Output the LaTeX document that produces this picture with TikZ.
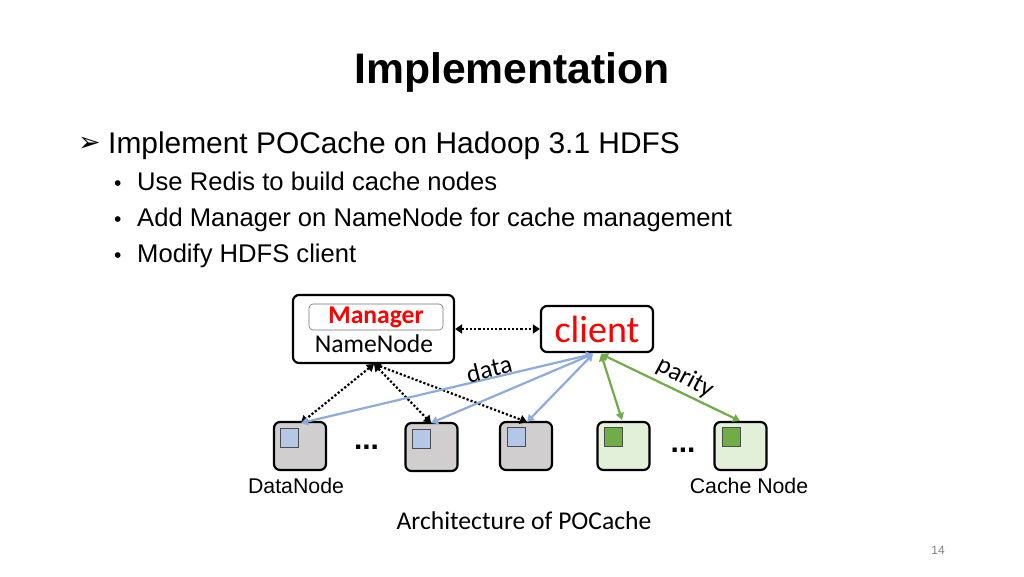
\documentclass[tikz,border=0pt]{standalone}
\usepackage{fontspec}
\setmainfont{Liberation Sans}
\newfontfamily\carlitofont{Carlito}
\newfontfamily\djvfont{DejaVu Sans}
\usetikzlibrary{arrows.meta}
\definecolor{dnfill}{HTML}{D0CECE}
\definecolor{cnfill}{HTML}{E2F0D9}
\definecolor{bluesq}{HTML}{B4C7E7}
\definecolor{greensq}{HTML}{70AD47}
\definecolor{bluearr}{HTML}{8FAADC}
\definecolor{greenarr}{HTML}{70AD47}
\definecolor{redtxt}{HTML}{FF0000}
\tikzset{
  txt/.style={inner sep=0, anchor=base west},
  mainbox/.style={draw=black, line width=2.2pt, rounded corners=6pt, fill=white},
  dnbox/.style={draw=black, line width=2.2pt, rounded corners=6pt, fill=dnfill, minimum width=52pt, minimum height=48pt, inner sep=0},
  cnbox/.style={draw=black, line width=2.2pt, rounded corners=6pt, fill=cnfill, minimum width=52pt, minimum height=48pt, inner sep=0},
  bsq/.style={draw=black!70, line width=0.8pt, fill=bluesq, minimum width=18pt, minimum height=19pt, inner sep=0},
  gsq/.style={draw=black!70, line width=0.8pt, fill=greensq, minimum width=18pt, minimum height=19pt, inner sep=0},
  dotarr/.style={line width=2.2pt, dotted, {Triangle[width=9pt,length=7pt]}-{Triangle[width=9pt,length=7pt]}},
  bluearrow/.style={draw=bluearr, line width=2.2pt, {Triangle[width=8pt,length=7pt]}-{Triangle[width=8pt,length=7pt]}},
  greenarrow/.style={draw=greenarr, line width=2.2pt, {Triangle[width=8pt,length=7pt]}-{Triangle[width=8pt,length=7pt]}},
  dlabel/.style={inner sep=0, font=\carlitofont\fontsize{25.6}{30}\selectfont},
}
\begin{document}
\begin{tikzpicture}[x=1pt,y=-1pt]
\useasboundingbox[fill=white] (0,0) rectangle (1024,576);
% title and bullets
\node[inner sep=0, anchor=base] (title) at (512,83) {\fontsize{42.7}{48}\selectfont\bfseries Implementation};
\node[txt] (b0) at (78,151) {\djvfont\fontsize{27}{30}\selectfont ➢};
\node[txt] (l0) at (108,153) {\fontsize{29.9}{34}\selectfont Implement POCache on Hadoop 3.1 HDFS};
\node[txt] (b1) at (114,190) {\fontsize{21}{25}\selectfont •};
\node[txt] (l1) at (137,190) {\fontsize{25.6}{30}\selectfont Use Redis to build cache nodes};
\node[txt] (b2) at (114,226) {\fontsize{21}{25}\selectfont •};
\node[txt] (l2) at (137,226) {\fontsize{25.6}{30}\selectfont Add Manager on NameNode for cache management};
\node[txt] (b3) at (114,262) {\fontsize{21}{25}\selectfont •};
\node[txt] (l3) at (137,262) {\fontsize{25.6}{30}\selectfont Modify HDFS client};
% NameNode
\node[mainbox, minimum width=161pt, minimum height=68pt] (nn) at (373.5,329) {};
\node[draw=black!55, line width=0.6pt, rounded corners=4pt, minimum width=134pt, minimum height=26pt, inner sep=0] (mgr) at (376,317) {\carlitofont\fontsize{25.6}{28}\selectfont\bfseries\color{redtxt}Manager};
\node[dlabel] (nnt) at (374,344) {NameNode};
% client
\node[mainbox, minimum width=112pt, minimum height=46pt, inner sep=0] (client) at (597,329) {\carlitofont\fontsize{38}{42}\selectfont\color{redtxt}client};
% data nodes
\node[dnbox] (d1) at (300,446) {};
\node[dnbox] (d2) at (431.5,447) {};
\node[dnbox] (d3) at (526,446) {};
\node[cnbox] (c1) at (623.5,446) {};
\node[cnbox] (c2) at (740.5,446) {};
\node[bsq] (s1) at (289,438) {};
\node[bsq] (s2) at (421,439) {};
\node[bsq] (s3) at (516,437) {};
\node[gsq] (s4) at (613,437) {};
\node[gsq] (s5) at (731,437) {};
% dots
\node[inner sep=0, anchor=base] (dots1) at (366.5,449) {\fontsize{30}{34}\selectfont\bfseries ...};
\node[inner sep=0, anchor=base] (dots2) at (683,452) {\fontsize{30}{34}\selectfont\bfseries ...};
% labels
\node[inner sep=0, anchor=base] (dnl) at (296,493) {\fontsize{21.3}{25}\selectfont DataNode};
\node[inner sep=0, anchor=base] (cnl) at (749,493) {\fontsize{21.3}{25}\selectfont Cache Node};
\node[dlabel, anchor=base] (cap) at (524,529) {Architecture of POCache};
\node[inner sep=0, anchor=base] (pg) at (938,554) {\fontsize{12}{14}\selectfont\color{black!50}14};
% connector anchors
\coordinate (cbB) at (593,354);
\coordinate (cbG) at (601,354);
\coordinate (nnb) at (374,364);
\coordinate (t1) at (301,423);
\coordinate (t2) at (431,423);
\coordinate (t3) at (527,422);
\coordinate (t4) at (622,420);
\coordinate (t5) at (740,421);
% NameNode - client
\draw[dotarr] (nn.east) -- (client.west);
% dotted from NameNode
\draw[dotarr] (nnb) -- (t1);
\draw[dotarr] (nnb) -- (t2);
\draw[dotarr] (nnb) -- (t3);
% blue data
\draw[bluearrow] (cbB) -- (t1);
\draw[bluearrow] (cbB) -- (t2);
\draw[bluearrow] (cbB) -- (t3);
% green parity
\draw[greenarrow] (cbG) -- (t4);
\draw[greenarrow] (cbG) -- (t5);
% edge labels
\node[dlabel, rotate=14] (datal) at (489,369) {data};
\node[dlabel, rotate=-28] (parl) at (685,378) {parity};
\end{tikzpicture}
\end{document}
